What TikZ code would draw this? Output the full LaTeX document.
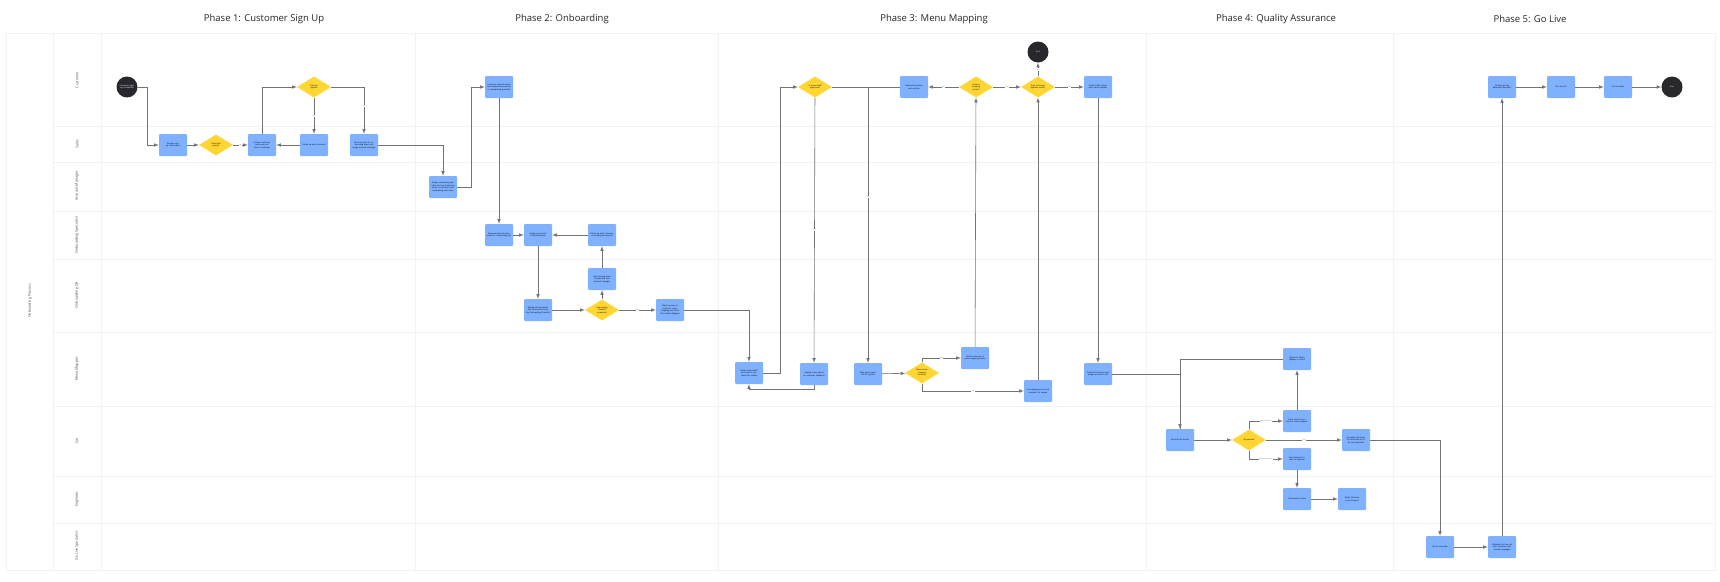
\documentclass[tikz,border=0pt]{standalone}
\usepackage{fontspec}
\setmainfont{Open Sans}
\usetikzlibrary{arrows,shapes.geometric}
\definecolor{boxblue}{RGB}{128,177,255}
\definecolor{deciyellow}{RGB}{255,214,51}
\definecolor{enddark}{RGB}{40,40,44}
\definecolor{gridgray}{RGB}{242,242,242}
\definecolor{linegray}{RGB}{115,115,115}
\tikzset{
  >=latex,
  {task/.style} ={rectangle, rounded corners=1pt, fill=boxblue,
                  minimum width=28pt, minimum height=22pt,
                  text width=24pt, align=center, inner sep=1pt,
                  font=\fontsize{2}{2.5}\selectfont},
  {decision/.style} ={diamond, aspect=1.6, fill=deciyellow,
                  minimum width=34pt, minimum height=21pt, inner sep=0pt,
                  text width=15pt, align=center,
                  font=\fontsize{2}{2.5}\selectfont},
  {terminal/.style} ={circle, fill=enddark, text=white,
                  minimum size=21pt, inner sep=0pt, text width=15pt,
                  align=center, font=\fontsize{2}{2.5}\selectfont},
  {flow/.style} ={draw=linegray, line width=0.6pt, ->},
  {edge label/.style} ={fill=white, inner sep=0.4pt, text=linegray,
                  font=\fontsize{1.8}{2}\selectfont},
  {lane/.style} ={rotate=90, text=black!70, font=\fontsize{3.6}{4}\selectfont},
  {phase/.style} ={text=black!85, font=\fontsize{9.5}{11}\selectfont},
  {grid line/.style} ={draw=gridgray, line width=0.6pt},
}
\begin{document}
\begin{tikzpicture}[x=1pt,y=-1pt]
    \useasboundingbox[fill=white] (0,0) rectangle (1720,581);
    % pool and lanes
    \draw[grid line] (6,33) rectangle (1715,570);
    \draw[grid line] (53,33) -- (53,570);
    \draw[grid line] (101,33) -- (101,570);
    \foreach \y in {126,162,211,259,332,406,476,523}
      \draw[grid line] (53,\y) -- (1715,\y);
    \foreach \x in {415,718,1146,1393}
      \draw[grid line] (\x,33) -- (\x,570);
    \node[lane] (pool) at (30,301) {Onboarding Process};
    \node[lane] (lcust) at (77,80) {Customer};
    \node[lane] (lsales) at (77,144) {Sales};
    \node[lane] (lam) at (77,186) {Account Manager};
    \node[lane] (los) at (77,235) {Onboarding Specialist};
    \node[lane] (loqa) at (77,295) {Onboarding QA};
    \node[lane] (lmm) at (77,369) {Menu Mapper};
    \node[lane] (lqa) at (77,441) {QA};
    \node[lane] (leng) at (77,499) {Engineer};
    \node[lane] (lgl) at (77,546) {Go Live Specialist};
    \node[phase] (ph1) at (264,19) {Phase 1: Customer Sign Up};
    \node[phase] (ph2) at (562,19) {Phase 2: Onboarding};
    \node[phase] (ph3) at (934,19) {Phase 3: Menu Mapping};
    \node[phase] (ph4) at (1276,19) {Phase 4: Quality Assurance};
    \node[phase] (ph5) at (1530,19) {Phase 5: Go Live};

    % phase 1
    \node[terminal] (start) at (127,87) {Customer signs up via website};
    \node[task] (signup) at (173,145) {Receive sign up information};
    \node[decision] (qualify) at (216,145) {Does lead qualify?};
    \node[task] (contact) at (262,145) {Contact customer and send contract to customer};
    \node[task] (followup) at (314,145) {Follow up with customer};
    \node[decision] (contract) at (314,87) {Contract signed?};
    \node[task] (handoff) at (364,145) {Send contract to onboarding team and assign account manager};
    \draw[flow] (start.east) -- ++(10,0) |- (signup.west);
    \draw[flow] (signup) -- (qualify);
    \draw[flow] (qualify) -- node[edge label] {Yes} (contact);
    \draw[flow] (contact.north) |- (contract.west);
    \draw[flow] (contract) -- node[edge label] {No} (followup);
    \draw[flow] (followup) -- (contact);
    \draw[flow] (contract.east) -| node[edge label, pos=0.7] {Yes} (handoff.north);

    % phase 2
    \node[task] (assign) at (443,187) {Assign onboarding specialist and send welcome email to customer with onboarding next steps};
    \node[task] (submit) at (499,87) {Customer submits menu and required documents to onboarding specialist};
    \node[task] (review) at (499,235) {Review and send documents to Onboarding QA};
    \node[task] (toqa) at (538,235) {Assign account to Onboarding QA};
    \node[task] (missing) at (602,235) {Follow up with customer on missing documents};
    \node[task] (checklist) at (538,310) {Review all documents and information from the Onboarding Checklist};
    \node[decision] (complete) at (602,310) {Onboarding Checklist complete?};
    \node[task] (flag) at (602,279) {Flag missing items to specialist and account manager};
    \node[task] (ready) at (670,310) {Mark account as ready for menu mapping and hand off to Menu Mapper};
    \draw[flow] (handoff.east) -| (assign.north);
    \draw[flow] (assign.east) -- ++(14,0) |- (submit.west);
    \draw[flow] (submit) -- (review);
    \draw[flow] (review) -- (toqa);
    \draw[flow] (missing) -- (toqa);
    \draw[flow] (toqa) -- (checklist);
    \draw[flow] (checklist) -- (complete);
    \draw[flow] (complete) -- (flag);
    \draw[flow] (flag) -- (missing);
    \draw[flow] (complete) -- node[edge label] {Yes} (ready);

    % phase 3
    \node[task] (draft) at (749,373) {Create menu draft and send to customer for review};
    \node[decision] (approved) at (815,87) {Is menu draft approved?};
    \node[task] (update) at (814,374) {Update menu based on customer feedback};
    \node[task] (mappos) at (868,374) {Map menu items to POS system};
    \node[decision] (mapped) at (922,373) {Menu items mapped correctly?};
    \node[task] (notify) at (975,358) {Notify customer of menu mapping status};
    \node[task] (confirm) at (914,87) {Review final menu and confirm};
    \node[decision] (correct) at (976,87) {Is menu mapping correct?};
    \node[decision] (custok) at (1038,87) {Does customer approve menu?};
    \node[terminal] (stop) at (1038,52) {End};
    \node[task] (final) at (1098,87) {Confirm final menu with menu mapper};
    \node[task] (fix) at (1038,391) {Fix mapping errors and resubmit for review};
    \node[task] (submitqa) at (1098,374) {Submit final menu and assign account to QA};
    \draw[flow] (ready.east) -| (draft.north);
    \draw[flow] (draft.east) -- ++(17,0) |- (approved.west);
    \draw[flow] (approved) -- node[edge label] {No} (update);
    \draw[flow] (update.south) -- ++(0,4) -| (draft.south);
    \draw[flow] (approved.east) -| node[edge label, pos=0.7] {Yes} (mappos.north);
    \draw[flow,-] (confirm.west) -- (mappos.north |- confirm.west);
    \draw[flow] (mappos) -- (mapped);
    \draw[flow] (mapped.north) |- node[edge label, pos=0.75] {Yes} (notify.west);
    \draw[flow] (mapped.south) |- node[edge label, pos=0.75] {No} (fix.west);
    \draw[flow] (notify) -- (correct);
    \draw[flow] (correct) -- node[edge label] {No} (confirm);
    \draw[flow] (fix) -- (custok);
    \draw[flow] (correct) -- node[edge label] {Yes} (custok);
    \draw[flow] (custok) -- node[edge label] {No} (stop);
    \draw[flow] (custok) -- node[edge label] {Yes} (final);
    \draw[flow] (final) -- (submitqa);

    % phase 4
    \node[task] (qacheck) at (1180,440) {Perform QA checks};
    \node[decision] (qapass) at (1249,440) {QA passed?};
    \node[task] (revise) at (1297,359) {Return to Menu Mapper to revise};
    \node[task] (menuerr) at (1297,421) {Send menu errors back to menu mapper};
    \node[task] (techerr) at (1297,459) {Send technical issues to Engineer};
    \node[task] (qadone) at (1356,440) {Complete QA checklist and hand off to Go Live Specialist};
    \node[task] (trouble) at (1297,499) {Troubleshoot issue};
    \node[task] (resolved) at (1352,499) {Notify QA team once resolved};
    \draw[flow] (submitqa.east) -| (qacheck.north);
    \draw[flow,-] (revise.west) -| (qacheck.north);
    \draw[flow] (qacheck) -- (qapass);
    \draw[flow] (qapass.north) |- node[edge label, pos=0.75] {Menu errors} (menuerr.west);
    \draw[flow] (qapass.south) |- node[edge label, pos=0.75] {Technical issues} (techerr.west);
    \draw[flow] (qapass) -- node[edge label] {Yes} (qadone);
    \draw[flow] (menuerr) -- (revise);
    \draw[flow] (techerr) -- (trouble);
    \draw[flow] (trouble) -- (resolved);

    % phase 5
    \node[task] (golivedate) at (1440,547) {Set Go Live date};
    \node[task] (schedule) at (1502,547) {Schedule Go Live call with customer and account manager};
    \node[task] (confirmdate) at (1502,87) {Confirm go live date with specialist};
    \node[task] (call) at (1561,87) {Go Live call};
    \node[task] (live) at (1618,87) {Go Live date};
    \node[terminal] (finish) at (1672,87) {End};
    \draw[flow] (qadone.east) -| (golivedate.north);
    \draw[flow] (golivedate) -- (schedule);
    \draw[flow] (schedule) -- (confirmdate);
    \draw[flow] (confirmdate) -- (call);
    \draw[flow] (call) -- (live);
    \draw[flow] (live) -- (finish);
\end{tikzpicture}
\end{document}
